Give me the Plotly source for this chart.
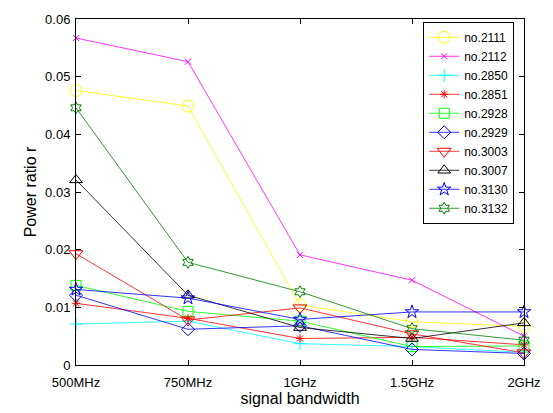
import plotly.graph_objects as go

categories = ["500MHz", "750MHz", "1GHz", "1.5GHz", "2GHz"]
series_names = ["no.2111", "no.2112", "no.2850", "no.2851", "no.2928",
                "no.2929", "no.3003", "no.3007", "no.3130", "no.3132"]

v2111 = [0.0476, 0.0449, 0.0104, 0.0075, 0.0067]
v2112 = [0.0567, 0.0526, 0.0191, 0.0147, 0.0050]
v2850 = [0.0071, 0.0076, 0.0037, 0.0032, 0.0022]
v2851 = [0.0107, 0.0081, 0.0046, 0.0048, 0.0035]
v2928 = [0.0138, 0.0093, 0.0076, 0.0032, 0.0033]
v2929 = [0.0121, 0.0062, 0.0068, 0.0027, 0.0020]
v3003 = [0.0193, 0.0078, 0.0099, 0.0054, 0.0021]
v3007 = [0.0321, 0.0121, 0.0065, 0.0046, 0.0073]
v3130 = [0.0131, 0.0116, 0.0079, 0.0092, 0.0092]
v3132 = [0.0446, 0.0178, 0.0127, 0.0063, 0.0043]

values = [v2111, v2112, v2850, v2851, v2928, v2929, v3003, v3007, v3130, v3132]
colors = ["#ffff00", "#ff00ff", "#00ffff", "#ff0000", "#00ff00",
          "#0000ff", "#ff0000", "#000000", "#0000ff", "#008000"]
symbols = ["circle-open", "x-thin-open", "cross-thin-open", "asterisk-open",
           "square-open", "diamond-open", "triangle-down-open", "triangle-up-open",
           "star-open", "hexagram-open"]
sizes = [12, 6, 9, 7, 10, 10, 12, 11, 10, 9]

xpos = list(range(len(categories)))

fig = go.Figure()
for name, vals, c, s, sz in zip(series_names, values, colors, symbols, sizes):
    fig.add_trace(go.Scatter(
        x=xpos, y=vals, name=name, mode="lines+markers",
        line=dict(color=c, width=0.8),
        marker=dict(symbol=s, size=sz, color=c, line=dict(color=c, width=1)),
        cliponaxis=False,
    ))

fig.update_layout(
    width=553, height=413,
    margin=dict(l=76, r=20, t=16, b=37),
    paper_bgcolor="white", plot_bgcolor="white",
    font=dict(family="Liberation Sans, Arial", size=13, color="black"),
    showlegend=True,
    legend=dict(x=0.775, y=0.992, xanchor="left", yanchor="top",
                bordercolor="black", borderwidth=1, bgcolor="white",
                font=dict(size=12), tracegroupgap=0, itemwidth=30),
)
fig.update_xaxes(
    range=[0, 4], tickvals=xpos, ticktext=categories,
    showline=True, linecolor="black", linewidth=1, mirror="ticks",
    ticks="inside", ticklen=5, tickcolor="black", showgrid=False, zeroline=False,
    ticklabelstandoff=5,
    title=dict(text="signal bandwidth", standoff=0),
)
fig.update_yaxes(
    range=[0, 0.06], tickvals=[0, 0.01, 0.02, 0.03, 0.04, 0.05, 0.06],
    ticktext=["0", "0.01", "0.02", "0.03", "0.04", "0.05", "0.06"],
    showline=True, linecolor="black", linewidth=1, mirror="ticks",
    ticks="inside", ticklen=5, tickcolor="black", showgrid=False, zeroline=False,
    ticklabelstandoff=2,
    title=dict(text="Power ratio r", standoff=4),
)

fig.write_html("out.html")
